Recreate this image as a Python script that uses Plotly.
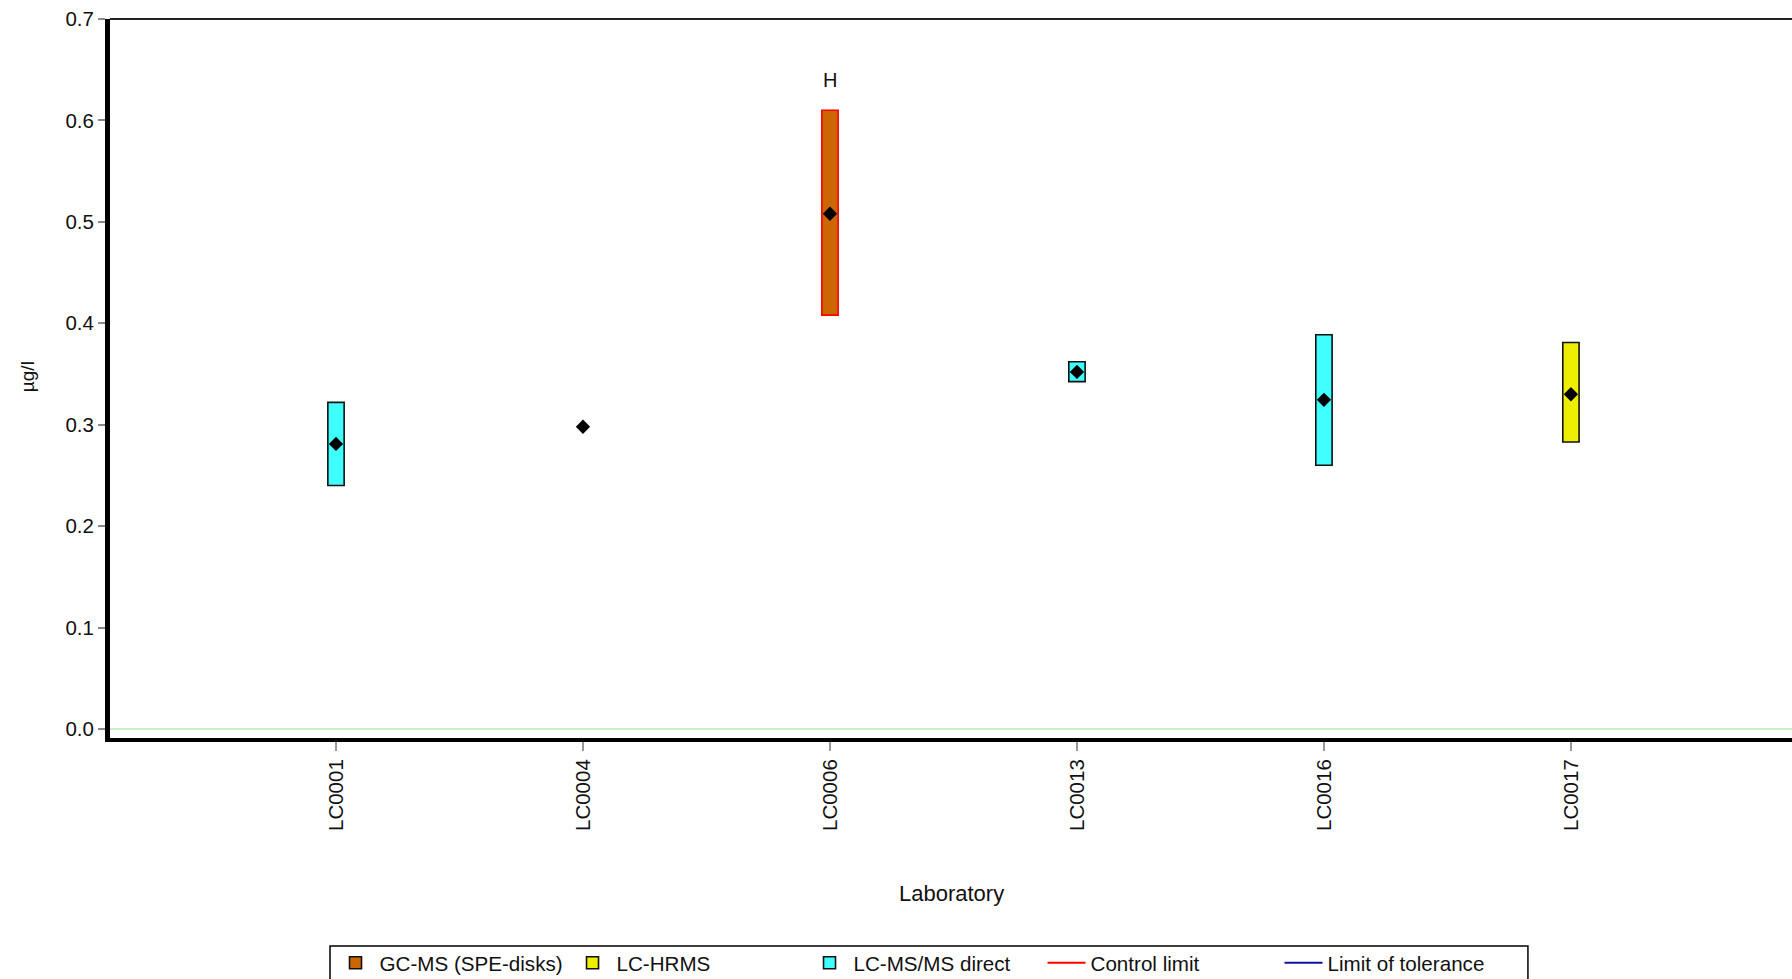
import plotly.graph_objects as go

# ---- data ----
labs = ["LC0001", "LC0004", "LC0006", "LC0013", "LC0016", "LC0017"]
methods = ["LC-MS/MS direct", None, "GC-MS (SPE-disks)", "LC-MS/MS direct", "LC-MS/MS direct", "LC-HRMS"]
means = [0.281, 0.298, 0.508, 0.352, 0.3245, 0.330]
lows = [0.240, None, 0.408, 0.3425, 0.260, 0.283]
highs = [0.322, None, 0.610, 0.362, 0.3887, 0.381]
flags = ["", "", "H", "", "", ""]

method_order = ["GC-MS (SPE-disks)", "LC-HRMS", "LC-MS/MS direct"]
method_colors = {"GC-MS (SPE-disks)": "#CC6600", "LC-HRMS": "#EEEE00", "LC-MS/MS direct": "#40FFFF"}
outline_colors = {"GC-MS (SPE-disks)": "#FF0000", "LC-HRMS": "#111111", "LC-MS/MS direct": "#111111"}
limit_names = ["Control limit", "Limit of tolerance"]
limit_colors = ["#FF0000", "#1010A0"]

FONT = "Liberation Sans, Arial, sans-serif"
fig = go.Figure()

for m in method_order:
    xs, bases, hs = [], [], []
    for lab, mm, lo, hi in zip(labs, methods, lows, highs):
        if mm == m and lo is not None:
            xs.append(lab)
            bases.append(lo)
            hs.append(hi - lo)
    fig.add_trace(go.Bar(
        x=xs, y=hs, base=bases, width=0.066, name=m, showlegend=False,
        marker=dict(color=method_colors[m], line=dict(color=outline_colors[m], width=1.6)),
    ))
    fig.add_trace(go.Bar(
        x=[None], y=[None], name=m, showlegend=True,
        marker=dict(color=method_colors[m], line=dict(color="#111111", width=1.6)),
    ))

for n, c in zip(limit_names, limit_colors):
    fig.add_trace(go.Scatter(x=[None], y=[None], mode="lines", name=n,
                             line=dict(color=c, width=2), showlegend=True))

fig.add_trace(go.Scatter(
    x=labs, y=means, mode="markers", showlegend=False,
    marker=dict(symbol="diamond", size=11, color="#000000"),
))

for lab, f in zip(labs, flags):
    if f:
        fig.add_annotation(x=lab, y=0.64, text=f, showarrow=False,
                           font=dict(family=FONT, size=20, color="#111111"),
                           xanchor="center", yanchor="middle")

fig.add_annotation(x=0.5, y=-0.2156, xref="paper", yref="paper", text="Laboratory",
                   showarrow=False, font=dict(family=FONT, size=22, color="#111111"),
                   xanchor="center", yanchor="middle")
fig.add_annotation(x=-0.0493, y=0.502, xref="paper", yref="paper", text="µg/l",
                   showarrow=False, textangle=-90, font=dict(family=FONT, size=19, color="#111111"),
                   xanchor="center", yanchor="middle")

# top border line
fig.add_shape(type="line", xref="paper", yref="paper", x0=0, x1=1, y0=1, y1=1,
              line=dict(color="#222222", width=2))
# legend frame
fig.add_shape(type="rect", xref="paper", yref="paper", x0=0.1308, x1=0.8430, y0=-0.2893, y1=-0.36,
              line=dict(color="#000000", width=1.5), fillcolor="rgba(0,0,0,0)")

fig.update_layout(
    width=1792, height=979,
    margin=dict(l=110, r=0, t=19, b=241, autoexpand=False),
    paper_bgcolor="white", plot_bgcolor="white",
    barmode="overlay",
    font=dict(family=FONT, size=20, color="#111111"),
    xaxis=dict(
        type="category", categoryorder="array", categoryarray=labs,
        range=[-0.915, 5.895], showgrid=False, zeroline=False, automargin=False,
        showline=True, linecolor="#000000", linewidth=4,
        ticks="outside", ticklen=9, tickwidth=2, tickcolor="#999999",
        tickangle=-90, tickfont=dict(family=FONT, size=20.5, color="#111111"),
    ),
    yaxis=dict(
        range=[-0.0089, 0.7], tick0=0, dtick=0.1, tickformat=".1f", automargin=False,
        showgrid=False, zeroline=True, zerolinecolor="#C8F2C8", zerolinewidth=2,
        showline=True, linecolor="#000000", linewidth=5,
        ticks="outside", ticklen=7, tickwidth=1.5, tickcolor="#888888",
        tickfont=dict(family=FONT, size=20.5, color="#111111"),
    ),
    legend=dict(
        orientation="h", x=0.1317, y=-0.2850, xanchor="left", yanchor="top",
        borderwidth=0, bgcolor="rgba(0,0,0,0)",
        itemwidth=38, entrywidth=184, entrywidthmode="pixels", traceorder="normal",
        font=dict(family=FONT, size=20.6, color="#111111"),
    ),
)

fig.write_html("out.html", config={"displayModeBar": False},
               post_script="document.body.style.margin='0';document.body.style.overflow='hidden';")
